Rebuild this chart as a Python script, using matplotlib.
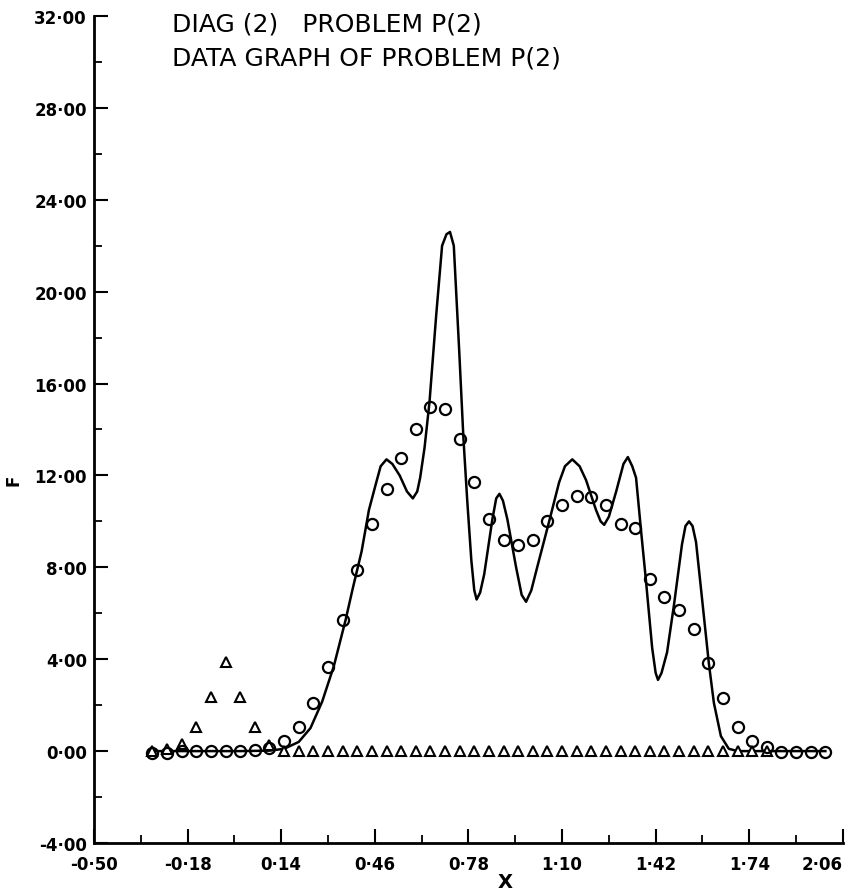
import matplotlib
matplotlib.use("Agg")
import matplotlib.pyplot as plt

# observed data (circles)
circle_x = [-0.30, -0.25, -0.20, -0.15, -0.10, -0.05, 0.00, 0.05, 0.10, 0.15,
            0.20, 0.25, 0.30, 0.35, 0.40, 0.45, 0.50, 0.55, 0.60, 0.65,
            0.70, 0.75, 0.80, 0.85, 0.90, 0.95, 1.00, 1.05, 1.10, 1.15,
            1.20, 1.25, 1.30, 1.35, 1.40, 1.45, 1.50, 1.55, 1.60, 1.65,
            1.70, 1.75, 1.80, 1.85, 1.90, 1.95, 2.00]
circle_y = [-0.1, -0.1, 0.0, 0.0, 0.0, 0.0, 0.0, 0.05, 0.15, 0.43,
            1.04, 2.1, 3.65, 5.7, 7.9, 9.87, 11.4, 12.76, 14.0, 15.0,
            14.9, 13.6, 11.7, 10.1, 9.2, 8.97, 9.2, 10.0, 10.7, 11.1,
            11.08, 10.7, 9.9, 9.7, 7.5, 6.7, 6.16, 5.3, 3.85, 2.3,
            1.05, 0.42, 0.17, -0.05, -0.05, -0.05, -0.05]

# triangles
tri_x = [-0.30, -0.25, -0.20, -0.15, -0.10, -0.05, 0.00, 0.05, 0.10, 0.15,
         0.20, 0.25, 0.30, 0.35, 0.40, 0.45, 0.50, 0.55, 0.60, 0.65,
         0.70, 0.75, 0.80, 0.85, 0.90, 0.95, 1.00, 1.05, 1.10, 1.15,
         1.20, 1.25, 1.30, 1.35, 1.40, 1.45, 1.50, 1.55, 1.60, 1.65,
         1.70, 1.75, 1.80]
tri_y = [0.0, 0.1, 0.3, 1.05, 2.35, 3.9, 2.35, 1.05, 0.25, 0.0,
         0.0, 0.0, 0.0, 0.0, 0.0, 0.0, 0.0, 0.0, 0.0, 0.0,
         0.0, 0.0, 0.0, 0.0, 0.0, 0.0, 0.0, 0.0, 0.0, 0.0,
         0.0, 0.0, 0.0, 0.0, 0.0, 0.0, 0.0, 0.0, 0.0, 0.0,
         0.0, 0.0, 0.0]

# fitted curve
line_x = [-0.30, 0.00, 0.10, 0.15, 0.20, 0.24, 0.28, 0.32, 0.36, 0.385,
          0.415, 0.44, 0.465, 0.48, 0.50, 0.52, 0.545, 0.57, 0.59, 0.605,
          0.615, 0.63, 0.647, 0.67, 0.69, 0.705, 0.717, 0.73, 0.749, 0.763,
          0.776, 0.79, 0.80, 0.808, 0.82, 0.834, 0.862, 0.875, 0.886, 0.898,
          0.913, 0.943, 0.962, 0.977, 0.995, 1.015, 1.056, 1.09, 1.11, 1.135,
          1.16, 1.182, 1.216, 1.232, 1.244, 1.26, 1.285, 1.31, 1.325, 1.34,
          1.353, 1.37, 1.387, 1.408, 1.42, 1.428, 1.44, 1.459, 1.483, 1.51,
          1.522, 1.534, 1.546, 1.558, 1.578, 1.602, 1.619, 1.643, 1.67, 1.70,
          2.00]
line_y = [0.0, 0.0, 0.02, 0.1, 0.4, 1.0, 2.15, 3.7, 5.7, 7.1,
          8.7, 10.5, 11.7, 12.4, 12.7, 12.5, 12.0, 11.3, 11.0, 11.3,
          11.9, 13.2, 15.2, 19.0, 22.0, 22.5, 22.6, 22.0, 17.3, 13.6,
          10.9, 8.3, 7.0, 6.6, 6.9, 7.7, 10.1, 11.0, 11.2, 10.9,
          10.1, 8.0, 6.8, 6.5, 7.0, 8.0, 10.0, 11.7, 12.4, 12.7,
          12.4, 11.8, 10.5, 10.0, 9.85, 10.2, 11.3, 12.5, 12.8, 12.4,
          11.9, 9.6, 7.4, 4.5, 3.4, 3.1, 3.4, 4.3, 6.4, 9.0,
          9.8, 10.0, 9.8, 9.1, 6.7, 3.8, 2.1, 0.65, 0.1, 0.0,
          0.0]

x_ticks = [-0.50, -0.18, 0.14, 0.46, 0.78, 1.10, 1.42, 1.74, 2.06]
x_labels = ["-0·50", "-0·18", "0·14", "0·46", "0·78", "1·10", "1·42", "1·74", "2·06"]
y_ticks = [-4, 0, 4, 8, 12, 16, 20, 24, 28, 32]
y_labels = ["-4·00", "0·00", "4·00", "8·00", "12·00", "16·00", "20·00", "24·00", "28·00", "32·00"]

fig = plt.figure(figsize=(8.54, 8.95), dpi=100)
ax = fig.add_axes([0.110, 0.057, 0.877, 0.924])

ax.plot(line_x, line_y, color="black", linewidth=1.8, zorder=2)
ax.plot(tri_x, tri_y, linestyle="none", marker="^", markersize=7.5,
        markerfacecolor="white", markeredgecolor="black", markeredgewidth=1.5, zorder=3)
ax.plot(circle_x, circle_y, linestyle="none", marker="o", markersize=8,
        markerfacecolor="none", markeredgecolor="black", markeredgewidth=1.6, zorder=4)

ax.set_xlim(-0.50, 2.06)
ax.set_ylim(-4, 32)
ax.spines["top"].set_visible(False)
ax.spines["right"].set_visible(False)
ax.spines["left"].set_linewidth(2)
ax.spines["bottom"].set_linewidth(2)

ax.set_xticks(x_ticks)
ax.set_xticklabels(x_labels)
ax.set_xticks([-0.34, -0.02, 0.30, 0.62, 0.94, 1.26, 1.58, 1.90], minor=True)
ax.set_yticks(y_ticks)
ax.set_yticklabels(y_labels)
ax.set_yticks([-2, 2, 6, 10, 14, 18, 22, 26, 30], minor=True)

ax.tick_params(which="major", direction="in", length=10, width=1.5, labelsize=12)
ax.tick_params(which="minor", direction="in", length=6, width=1.3)
ax.tick_params(axis="x", which="major", pad=9)
ax.tick_params(axis="y", which="major", pad=5)
for lab in ax.get_xticklabels() + ax.get_yticklabels():
    lab.set_fontweight("bold")
ax.get_xticklabels()[-1].set_horizontalalignment("right")

ax.set_xlabel("X", fontsize=14, fontweight="bold", va="center")
ax.xaxis.set_label_coords(0.549, -0.046)
ax.set_ylabel("F", fontsize=12, fontweight="bold", va="center")
ax.yaxis.set_label_coords(-0.107, 0.44)

fig.text(0.201, 0.973, "DIAG (2)   PROBLEM P(2)", fontsize=18, va="center", ha="left")
fig.text(0.201, 0.935, "DATA GRAPH OF PROBLEM P(2)", fontsize=18, va="center", ha="left")

fig.savefig("out.png", dpi=100, facecolor="white")
